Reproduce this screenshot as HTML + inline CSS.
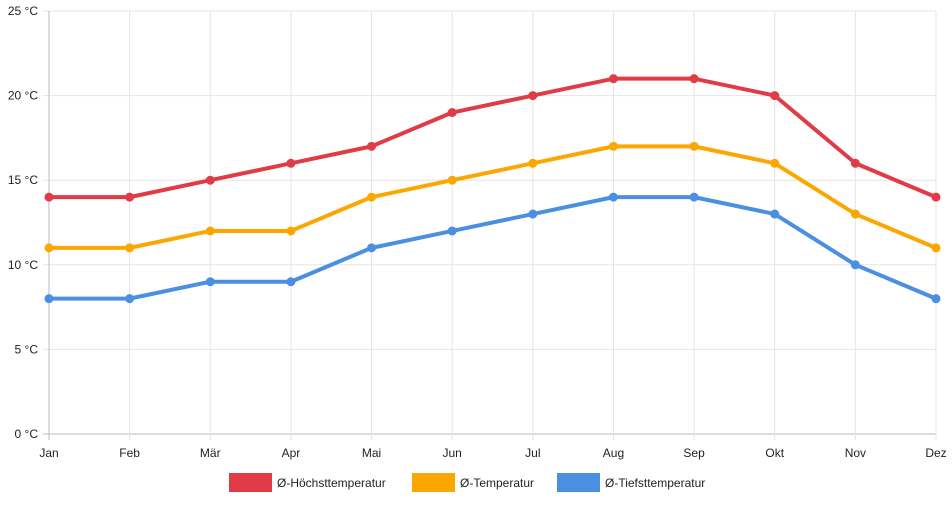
<!DOCTYPE html>
<html><head><meta charset="utf-8"><style>
body{margin:0;background:#fff;font-family:"Liberation Sans",sans-serif;}
svg text{font-family:"Liberation Sans",sans-serif;font-size:12px;fill:#222;}
</style></head><body>
<svg id="chart" width="952" height="500"></svg>
<script>
const months=["Jan","Feb","Mär","Apr","Mai","Jun","Jul","Aug","Sep","Okt","Nov","Dez"];
const highTemps=[14,14,15,16,17,19,20,21,21,20,16,14];
const meanTemps=[11,11,12,12,14,15,16,17,17,16,13,11];
const lowTemps=[8,8,9,9,11,12,13,14,14,13,10,8];
const yTicks=[0,5,10,15,20,25];
const seriesNames=["Ø-Höchsttemperatur","Ø-Temperatur","Ø-Tiefsttemperatur"];
const NS="http://www.w3.org/2000/svg";
const svg=document.getElementById('chart');
const L=49,R=936,T=11,B=434;
const x=i=>L+i*(R-L)/(months.length-1);
const y=v=>B-(v-0)/(25-0)*(B-T);
function mk(tag,attrs,parent){const e=document.createElementNS(NS,tag);for(const k in attrs)e.setAttribute(k,attrs[k]);(parent||svg).appendChild(e);return e;}
const grid=mk('g',{});


yTicks.forEach(t=>{
  const l=mk('line',{x1:L-6,x2:R,y1:y(t),y2:y(t),stroke:t===0?'#bbb':'#e5e5e5'},grid);
  
  
  const tx=mk('text',{x:L-11,y:y(t)+4,'text-anchor':'end'});
  tx.textContent=t+' °C';
  
  
});
months.forEach((m,i)=>{
  const l=mk('line',{x1:x(i),x2:x(i),y1:T,y2:B+6,stroke:i===0?'#bbb':'#e5e5e5'},grid);
  
  
  const tx=mk('text',{x:x(i),y:B+23,'text-anchor':'middle'});
  tx.textContent=m;
  
  
});
const series=[[highTemps,'#e03b46'],[meanTemps,'#fca701'],[lowTemps,'#4a8fe2']];
series.forEach(([d,c],si)=>{
  const g=mk('g',{});
  
  
  const p=mk('polyline',{points:d.map((v,i)=>x(i)+','+y(v)).join(' '),fill:'none',stroke:c,'stroke-width':4,'stroke-linejoin':'round'},g);
  
  
  d.forEach((v,i)=>{
    const pt=mk('circle',{cx:x(i),cy:y(v),r:4.5,fill:c},g);
    
    
  });
});
const legX=[229,412,557];
series.forEach(([d,c],si)=>{
  const g=mk('g',{});
  
  
  mk('rect',{x:legX[si],y:473,width:43,height:19,fill:c},g);
  const tx=mk('text',{x:legX[si]+48,y:487},g);
  tx.textContent=seriesNames[si];
});
</script>
</body></html>
